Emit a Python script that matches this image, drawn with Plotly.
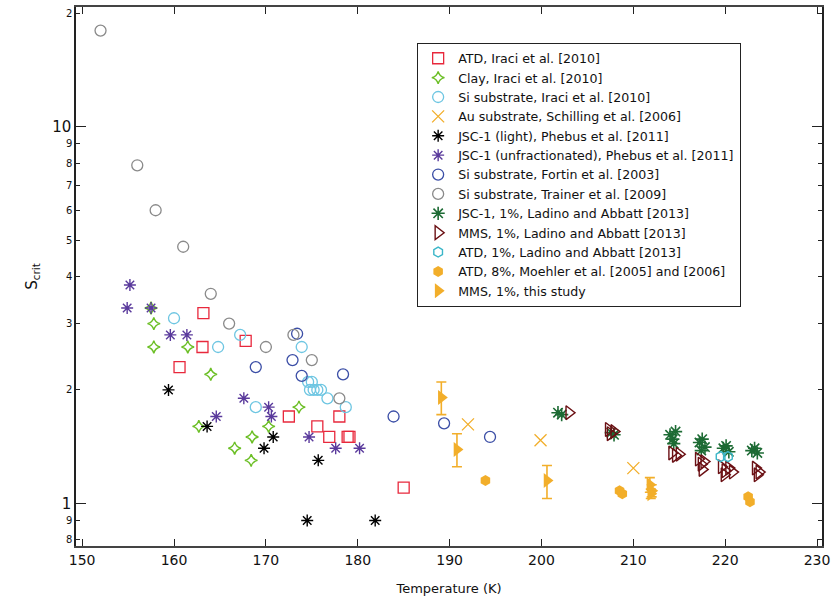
import plotly.graph_objects as go

# ---------------- data ----------------
atd_iraci_T = [163.2, 163.1, 160.6, 167.8, 172.5, 178.0, 175.6, 176.9, 178.9, 179.1, 185.0]
atd_iraci_S = [3.2, 2.6, 2.3, 2.7, 1.7, 1.7, 1.6, 1.5, 1.5, 1.5, 1.1]

clay_T = [157.5, 157.8, 157.8, 161.5, 164.0, 173.6, 162.7, 170.3, 168.5, 166.6, 168.4]
clay_S = [3.3, 3.0, 2.6, 2.6, 2.2, 1.8, 1.6, 1.6, 1.5, 1.4, 1.3]

si_iraci_T = [160.0, 164.8, 167.2, 173.9, 174.6, 175.0, 174.8, 175.2, 175.6, 176.0, 176.7, 178.7, 168.9]
si_iraci_S = [3.1, 2.6, 2.8, 2.6, 2.1, 2.1, 2.0, 2.0, 2.0, 2.0, 1.9, 1.8, 1.8]

au_T = [192.0, 199.9, 210.0]
au_S = [1.62, 1.47, 1.24]

jsc_light_T = [159.4, 163.6, 170.8, 169.8, 175.7, 174.5, 181.9]
jsc_light_S = [2.0, 1.6, 1.5, 1.4, 1.3, 0.9, 0.9]

jsc_unf_T = [155.2, 154.9, 157.5, 159.6, 161.4, 167.6, 164.6, 170.3, 170.6, 174.7, 177.6, 180.2]
jsc_unf_S = [3.8, 3.3, 3.3, 2.8, 2.8, 1.9, 1.7, 1.8, 1.7, 1.5, 1.4, 1.4]

si_fortin_T = [173.4, 172.9, 168.9, 173.9, 178.4, 183.9, 189.4, 194.4]
si_fortin_S = [2.82, 2.4, 2.3, 2.18, 2.2, 1.7, 1.63, 1.5]

si_trainer_T = [152, 156, 158, 161, 164, 166, 170, 173, 175, 178]
si_trainer_S = [18.0, 7.9, 6.0, 4.8, 3.6, 3.0, 2.6, 2.8, 2.4, 1.9]

jsc_ladino_T = [201.8, 202.2, 207.6, 207.9, 214.0, 214.3, 214.6, 214.4, 217.2, 217.5,
                217.8, 217.4, 219.8, 220.1, 220.4, 222.9, 223.2, 223.5]
jsc_ladino_S = [1.74, 1.72, 1.54, 1.52, 1.52, 1.48, 1.55, 1.44, 1.45, 1.48,
                1.41, 1.38, 1.40, 1.42, 1.37, 1.38, 1.40, 1.36]

mms_ladino_T = [203.0, 207.3, 207.5, 207.9, 214.2, 214.6, 215.0, 217.1, 217.4, 217.7,
                217.5, 219.6, 220.0, 220.4, 220.8, 219.9, 223.3, 223.7, 223.5]
mms_ladino_S = [1.74, 1.57, 1.53, 1.55, 1.36, 1.34, 1.35, 1.31, 1.27, 1.29,
                1.23, 1.25, 1.22, 1.24, 1.21, 1.19, 1.24, 1.21, 1.19]

atd_ladino_T = [219.5, 220.3]
atd_ladino_S = [1.33, 1.33]

atd_moehler_T = [193.9, 208.5, 208.8, 222.5, 222.7]
atd_moehler_S = [1.15, 1.08, 1.06, 1.04, 1.01]

mms_this_T = [189.1, 190.8, 200.6, 211.8, 212.0, 211.9]
mms_this_S = [1.91, 1.39, 1.15, 1.12, 1.08, 1.06]
mms_this_err_up = [0.19, 0.14, 0.11, 0.05, 0.04, 0.03]
mms_this_err_dn = [0.19, 0.14, 0.12, 0.05, 0.04, 0.03]

y_minor_vals = [0.8, 0.9, 2, 3, 4, 5, 6, 7, 8, 9, 20]
y_minor_text = ["8", "9", "2", "3", "4", "5", "6", "7", "8", "9", "2"]
y_major_vals = [1, 10]
y_major_text = ["1", "10"]

FONT = "DejaVu Sans"

series = [
    ("ATD, Iraci et al. [2010]", atd_iraci_T, atd_iraci_S, "square-open", "#e8283c", 11, 1.3),
    ("Clay, Iraci et al. [2010]", clay_T, clay_S, "star-diamond-open", "#6cbf26", 9, 1.4),
    ("Si substrate, Iraci et al. [2010]", si_iraci_T, si_iraci_S, "circle-open", "#6ec6e2", 11, 1.3),
    ("Au substrate, Schilling et al. [2006]", au_T, au_S, "x-thin-open", "#f2ae2a", 12, 1.3),
    ("JSC-1 (light), Phebus et al. [2011]", jsc_light_T, jsc_light_S, "asterisk-open", "#000000", 10, 1.4),
    ("JSC-1 (unfractionated), Phebus et al. [2011]", jsc_unf_T, jsc_unf_S, "asterisk-open", "#5a3a9c", 10, 1.4),
    ("Si substrate, Fortin et al. [2003]", si_fortin_T, si_fortin_S, "circle-open", "#3b4ea6", 11, 1.3),
    ("Si substrate, Trainer et al. [2009]", si_trainer_T, si_trainer_S, "circle-open", "#8a8a8a", 11, 1.3),
    ("JSC-1, 1%, Ladino and Abbatt [2013]", jsc_ladino_T, jsc_ladino_S, "asterisk-open", "#1d6b34", 11, 1.6),
    ("MMS, 1%, Ladino and Abbatt [2013]", mms_ladino_T, mms_ladino_S, "triangle-right-open", "#6b1014", 12, 1.4),
    ("ATD, 1%, Ladino and Abbatt [2013]", atd_ladino_T, atd_ladino_S, "hexagon-open", "#3ab6c8", 10, 1.4),
]

fig = go.Figure()
for name, xs, ys, sym, col, size, lw in series:
    fig.add_trace(go.Scatter(
        x=xs, y=ys, mode="markers", name=name,
        marker=dict(symbol=sym, color=col, size=size, line=dict(color=col, width=lw)),
    ))

fig.add_trace(go.Scatter(
    x=atd_moehler_T, y=atd_moehler_S, mode="markers",
    name="ATD, 8%, Moehler et al. [2005] and [2006]",
    marker=dict(symbol="hexagon", color="#f2ae2a", size=11, line=dict(width=0)),
))
fig.add_trace(go.Scatter(
    x=mms_this_T, y=mms_this_S, mode="markers", name="MMS, 1%, this study",
    marker=dict(symbol="triangle-right", color="#f2ae2a", size=13, line=dict(width=0)),
    error_y=dict(type="data", array=mms_this_err_up, arrayminus=mms_this_err_dn,
                 color="#f2ae2a", thickness=1.6, width=5),
))

# invisible trace on second y axis carrying the major ticks
fig.add_trace(go.Scatter(x=[None], y=[None], yaxis="y2", showlegend=False, hoverinfo="skip"))

yrange = [-0.1135, 1.318]
fig.update_layout(
    width=835, height=603,
    margin=dict(l=76, r=9, t=5, b=57),
    paper_bgcolor="white", plot_bgcolor="white",
    font=dict(family=FONT, color="#111"),
    showlegend=True,
    legend=dict(x=0.4573, y=0.9340, xanchor="left", yanchor="top",
                bgcolor="white", bordercolor="#222", borderwidth=1,
                font=dict(family=FONT, size=12.6, color="#111"),
                tracegroupgap=0, itemsizing="trace", entrywidth=315, entrywidthmode="pixels"),
    xaxis=dict(range=[149.33, 230.54], tick0=150, dtick=10, ticks="inside", ticklen=7,
               tickcolor="#222", showline=True, linecolor="#444", linewidth=1.5,
               mirror="ticks", showgrid=False, zeroline=False,
               tickfont=dict(family=FONT, size=14, color="#111"),
               title=dict(text="Temperature (K)", font=dict(family=FONT, size=13, color="#111"), standoff=17)),
    yaxis=dict(type="log", range=yrange, tickmode="array", tickvals=y_minor_vals, ticktext=y_minor_text,
               ticks="inside", ticklen=4, tickcolor="#222", showline=True, linecolor="#222", linewidth=1.5,
               mirror="ticks", showgrid=False, zeroline=False,
               tickfont=dict(family=FONT, size=10, color="#111"),
               title=dict(text="S<sub>crit</sub>", font=dict(family=FONT, size=15, color="#111"), standoff=25)),
    yaxis2=dict(type="log", range=yrange, overlaying="y", side="left", tickmode="array",
                tickvals=y_major_vals, ticktext=y_major_text, ticks="inside", ticklen=10,
                tickcolor="#222", showline=True, linecolor="#222", linewidth=1.5, mirror="ticks",
                showgrid=False, zeroline=False,
                tickfont=dict(family=FONT, size=15, color="#111")),
)

fig.write_html("out.html")
